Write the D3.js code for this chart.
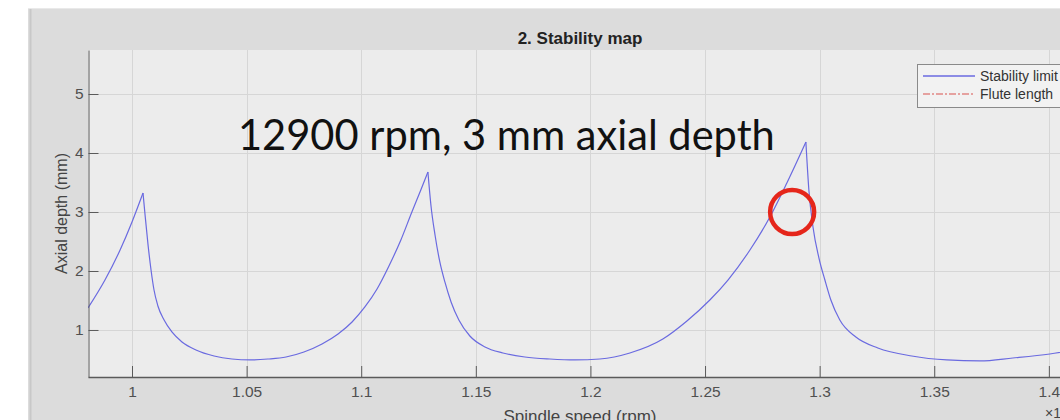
<!DOCTYPE html>
<html>
<head>
<meta charset="utf-8">
<script src="https://cdn.jsdelivr.net/npm/d3@7/dist/d3.min.js"></script>
<style>
  html, body { margin: 0; padding: 0; background: #ffffff; }
  svg { display: block; }
  text { font-family: "Liberation Sans", Arial, sans-serif; }
</style>
</head>
<body>
<svg id="chart" width="1060" height="420"></svg>
<script>
// ---- data (spindle speed in units of 10^4 rpm, axial depth in mm) ----
const speed = [
  0.9808, 0.9882, 0.9948, 1.0000, 1.0048,
  1.0057, 1.0070, 1.0083, 1.0096, 1.0113, 1.0140, 1.0174, 1.0218, 1.0279, 1.0358,
  1.0436, 1.0515, 1.0593, 1.0672, 1.0750, 1.0829, 1.0899, 1.0960, 1.1016, 1.1069,
  1.1121, 1.1173, 1.1221, 1.1260, 1.1291,
  1.1304, 1.1322, 1.1343, 1.1365, 1.1392, 1.1426, 1.1474, 1.1540, 1.1618, 1.1714,
  1.1823, 1.1932, 1.2041, 1.2172, 1.2316, 1.2421, 1.2521, 1.2600, 1.2696, 1.2783,
  1.2857, 1.2940,
  1.2953, 1.2971, 1.2997, 1.3023, 1.3049, 1.3088, 1.3158, 1.3254, 1.3402, 1.3555,
  1.3699, 1.3843, 1.4004, 1.4113
];
const depth = [
  1.373, 1.847, 2.356, 2.831, 3.322,
  2.949, 2.441, 2.017, 1.678, 1.407, 1.169, 0.966, 0.797, 0.661, 0.559,
  0.508, 0.492, 0.508, 0.542, 0.627, 0.763, 0.932, 1.136, 1.390, 1.695,
  2.085, 2.525, 3.000, 3.373, 3.678,
  3.119, 2.610, 2.153, 1.814, 1.475, 1.169, 0.898, 0.712, 0.610, 0.542,
  0.508, 0.492, 0.508, 0.610, 0.847, 1.153, 1.508, 1.847, 2.356, 2.915,
  3.492, 4.186,
  3.373, 2.746, 2.220, 1.847, 1.508, 1.169, 0.881, 0.695, 0.559, 0.492,
  0.475, 0.525, 0.593, 0.661
];
const xTicks = [1, 1.05, 1.1, 1.15, 1.2, 1.25, 1.3, 1.35, 1.4];
const xTickLabels = ["1", "1.05", "1.1", "1.15", "1.2", "1.25", "1.3", "1.35", "1.4"];
const yTicks = [1, 2, 3, 4, 5];
const yTickLabels = ["1", "2", "3", "4", "5"];
const seriesNames = ["Stability limit", "Flute length"];
const markSpeed = [1.288];
const markDepth = [3.0];
const titleText = "2. Stability map";
const annotationText = "12900 rpm, 3 mm axial depth";
const xLabel = "Spindle speed (rpm)";
const yLabel = "Axial depth (mm)";

// ---- layout ----
const svg = d3.select("#chart");
const W = 1060, H = 420;
const plot = { left: 88, top: 50, right: 1072, bottom: 377 };

const x = d3.scaleLinear().domain([0.9808, 1.4101]).range([plot.left, plot.right]);
const y = d3.scaleLinear().domain([0.203, 5.746]).range([plot.bottom, plot.top]);

// panel background
svg.append("rect").attr("x", 28).attr("y", 8).attr("width", W - 28).attr("height", H - 8)
  .attr("fill", "#dcdcdc");
svg.append("line").attr("x1", 28).attr("x2", W).attr("y1", 8.5).attr("y2", 8.5)
  .attr("stroke", "#e9e9e9").attr("stroke-width", 1);
svg.append("line").attr("x1", 30.5).attr("x2", 30.5).attr("y1", 9).attr("y2", H)
  .attr("stroke", "#c8c8c8").attr("stroke-width", 2);

// plot area
svg.append("rect").attr("x", plot.left).attr("y", plot.top)
  .attr("width", plot.right - plot.left).attr("height", plot.bottom - plot.top)
  .attr("fill", "#ececec");

// gridlines
const grid = svg.append("g");
grid.selectAll("line.vx").data(xTicks).join("line")
  .attr("x1", d => Math.round(x(d)) + 0.5).attr("x2", d => Math.round(x(d)) + 0.5)
  .attr("y1", plot.top).attr("y2", plot.bottom)
  .attr("stroke", "#d6d6d6").attr("stroke-width", 1);
grid.selectAll("line.hy").data(yTicks).join("line")
  .attr("y1", d => Math.round(y(d)) + 0.5).attr("y2", d => Math.round(y(d)) + 0.5)
  .attr("x1", plot.left).attr("x2", plot.right)
  .attr("stroke", "#d6d6d6").attr("stroke-width", 1);

// clip
svg.append("clipPath").attr("id", "clip").append("rect")
  .attr("x", plot.left).attr("y", plot.top)
  .attr("width", plot.right - plot.left).attr("height", plot.bottom - plot.top);

// stability curve: split at the lobe peaks so the cusps stay sharp
const pts = speed.map((s, i) => [s, depth[i]]);
const breaks = [0];
for (let i = 1; i < depth.length - 1; i++) {
  if (depth[i] > depth[i - 1] && depth[i] > depth[i + 1]) breaks.push(i);
}
breaks.push(depth.length - 1);
const segments = [];
for (let k = 0; k < breaks.length - 1; k++) segments.push(pts.slice(breaks[k], breaks[k + 1] + 1));
const line = d3.line().x(d => x(d[0])).y(d => y(d[1])).curve(d3.curveMonotoneX);
const curveG = svg.append("g").attr("clip-path", "url(#clip)");
curveG.selectAll("path").data(segments).join("path")
  .attr("d", line).attr("fill", "none")
  .attr("stroke", "#6a6ae0").attr("stroke-width", 1.2).attr("stroke-linejoin", "miter");

// axes
const axisColor = "#5a5a5a";
const xAxis = d3.axisBottom(x).tickValues(xTicks)
  .tickFormat((d, i) => xTickLabels[i]).tickSizeInner(-11).tickSizeOuter(0).tickPadding(9);
const gx = svg.append("g").attr("transform", `translate(0,${plot.bottom})`).call(xAxis);
gx.select(".domain").attr("stroke", axisColor).attr("stroke-width", 1.5);
gx.selectAll(".tick line").attr("stroke", axisColor);
gx.selectAll(".tick text").attr("fill", "#505050").style("font-size", "15.5px")
  .style("font-family", "'Liberation Sans', Arial, sans-serif");

const yAxis = d3.axisLeft(y).tickValues(yTicks)
  .tickFormat((d, i) => yTickLabels[i]).tickSizeInner(-10).tickSizeOuter(0).tickPadding(5);
const gy = svg.append("g").attr("transform", `translate(${plot.left + 0.5},0)`).call(yAxis);
gy.select(".domain").attr("stroke", axisColor).attr("stroke-width", 1);
gy.selectAll(".tick line").attr("stroke", axisColor);
gy.selectAll(".tick text").attr("fill", "#505050").style("font-size", "15.5px")
  .style("font-family", "'Liberation Sans', Arial, sans-serif");

// title
svg.append("text").attr("x", (plot.left + plot.right) / 2).attr("y", 44)
  .attr("text-anchor", "middle").attr("font-weight", "bold")
  .attr("font-size", 17).attr("fill", "#222").text(titleText);

// axis labels
svg.append("text").attr("x", (plot.left + plot.right) / 2).attr("y", 422)
  .attr("text-anchor", "middle").attr("font-size", 17).attr("fill", "#444").text(xLabel);
svg.append("text").attr("transform", `translate(67,${(plot.top + plot.bottom) / 2}) rotate(-90)`)
  .attr("text-anchor", "middle").attr("font-size", 16).attr("fill", "#444").text(yLabel);

// x10^4 exponent
const ex = svg.append("text").attr("x", 1045).attr("y", 418).attr("font-size", 14).attr("fill", "#444");
ex.append("tspan").text("×10");
ex.append("tspan").attr("dy", -5).attr("font-size", 10).text("4");

// legend
const lg = svg.append("g").attr("transform", "translate(917,64)");
lg.append("rect").attr("x", 0.5).attr("y", 0.5).attr("width", 160).attr("height", 43)
  .attr("fill", "#f2f2f2").attr("stroke", "#8a8a8a").attr("stroke-width", 1);
lg.append("line").attr("x1", 6).attr("x2", 58).attr("y1", 12).attr("y2", 12)
  .attr("stroke", "#6a6ae0").attr("stroke-width", 1.5);
lg.append("line").attr("x1", 6).attr("x2", 58).attr("y1", 30).attr("y2", 30)
  .attr("stroke", "#d9534f").attr("stroke-width", 1).attr("stroke-dasharray", "7,2,2,2");
lg.append("text").attr("x", 63).attr("y", 17).attr("font-size", 14).attr("fill", "#333").text(seriesNames[0]);
lg.append("text").attr("x", 63).attr("y", 35).attr("font-size", 14).attr("fill", "#333").text(seriesNames[1]);

// annotation text (slide overlay)
const ann = svg.append("text").attr("x", 238).attr("y", 150)
  .style("font-family", "Lato, 'Open Sans', sans-serif").attr("font-size", 36)
  .attr("fill", "#111").text(annotationText);
const w = ann.node().getComputedTextLength();
ann.attr("font-size", 36 * 537 / w);

// red circle marker
svg.selectAll("circle.mark").data(markSpeed).join("circle")
  .attr("cx", d => x(d)).attr("cy", (d, i) => y(markDepth[i])).attr("r", 22)
  .attr("fill", "none").attr("stroke", "#e5261b").attr("stroke-width", 4.5);
</script>
</body>
</html>
